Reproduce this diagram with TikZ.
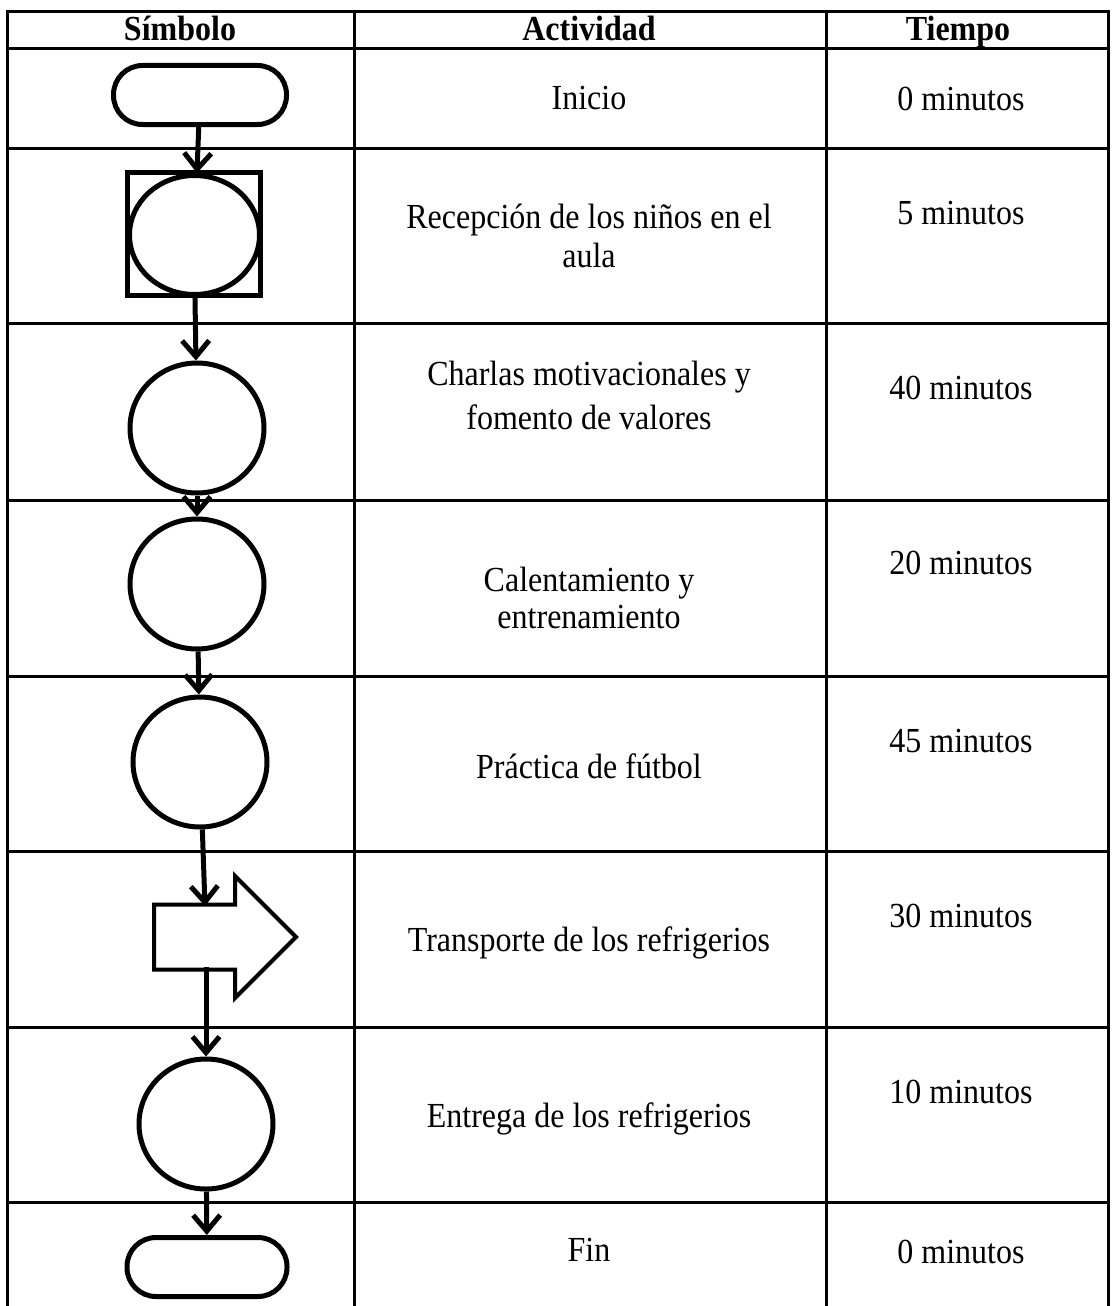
\documentclass[tikz,border=0pt]{standalone}
\usepackage{fontspec}
\setmainfont{Liberation Serif}
\usetikzlibrary{arrows.meta,shapes.geometric,shapes.arrows}
\tikzstyle{grid}=[line width=3pt,line cap=rect]
\tikzstyle{term}=[rectangle,rounded corners=29pt,draw=black,line width=5pt,
  minimum width=160pt,minimum height=59pt]
\tikzstyle{op}=[ellipse,draw=black,line width=5pt,inner sep=0pt,
  minimum width=134pt,minimum height=130pt]
\tikzstyle{insp}=[rectangle,draw=black,line width=5pt,inner sep=0pt,
  minimum width=133pt,minimum height=123pt]
\tikzstyle{mv}=[single arrow,draw=black,line width=4pt,inner xsep=0pt,
  inner ysep=30.5pt,single arrow head extend=28.5pt,minimum height=142pt]
\tikzstyle{flow}=[line width=5pt,-{Straight Barb[length=16pt,width=27pt]}]
\tikzstyle{cell}=[font=\fontsize{32}{35}\selectfont,align=center,yscale=1.1]
\tikzstyle{head}=[cell,font=\fontsize{32}{35}\selectfont\bfseries,anchor=base]

\begin{document}
\begin{tikzpicture}[x=1pt,y=-1pt]
    \fill[white] (0,0) rectangle (1111,1306);
    \useasboundingbox (0,0) rectangle (1111,1306);
    % table
    \foreach \y in {12,49,148,323,500,676,851,1027,1202}
        \draw[grid] (7,\y) -- (1108,\y);
    \foreach \x in {7,354,826,1108}
        \draw[grid] (\x,12) -- (\x,1320);
    % header
    \node[head] (hsym) at (180,41) {Símbolo};
    \node[head] (hact) at (589,41) {Actividad};
    \node[head] (htime) at (958,41) {Tiempo};
    % symbols
    \node[term, minimum width=173pt] (start) at (200,95) {};
    \node[insp] (sq) at (194,234) {};
    \node[op, minimum width=130pt, minimum height=119pt] (rc) at (194.5,235) {};
    \node[op] (c3) at (197,428) {};
    \node[op] (c4) at (197,584) {};
    \node[op] (c5) at (200,762) {};
    \node[mv, anchor=tail] (blk) at (152,937) {};
    \coordinate (blkin) at (205,906);
    \coordinate (blkout) at (206,967);
    \node[op] (c7) at (206,1124) {};
    \node[term] (fin) at (207,1267) {};
    \draw[flow] (start) -- (rc);
    \draw[flow] (sq) -- (c3);
    \draw[flow] (c3) -- (c4);
    \draw[flow] (c4) -- (c5);
    \draw[flow] (c5) -- (blkin);
    \draw[flow] (blkout) -- (c7);
    \draw[flow] (c7) -- (fin);
    % activities
    \node[cell] (a1) at (589,98) {Inicio};
    \node[cell] (a2) at (589,236) {Recepción de los niños en el\\aula};
    \node[cell] (a3) at (589,395) {Charlas motivacionales y\\[5pt]fomento de valores};
    \node[cell] (a4) at (589,598) {Calentamiento y\\[-2pt]entrenamiento};
    \node[cell] (a5) at (589,766) {Práctica de fútbol};
    \node[cell] (a6) at (589,943) {Transporte de los refrigerios};
    \node[cell] (a7) at (589,1119) {Entrega de los refrigerios};
    \node[cell] (a8) at (589,1250) {Fin};
    % times
    \node[cell] (t1) at (961,99) {0 minutos};
    \node[cell] (t2) at (961,213) {5 minutos};
    \node[cell] (t3) at (961,388) {40 minutos};
    \node[cell] (t4) at (961,563) {20 minutos};
    \node[cell] (t5) at (961,741) {45 minutos};
    \node[cell] (t6) at (961,916) {30 minutos};
    \node[cell] (t7) at (961,1092) {10 minutos};
    \node[cell] (t8) at (961,1252) {0 minutos};
\end{tikzpicture}
\end{document}
